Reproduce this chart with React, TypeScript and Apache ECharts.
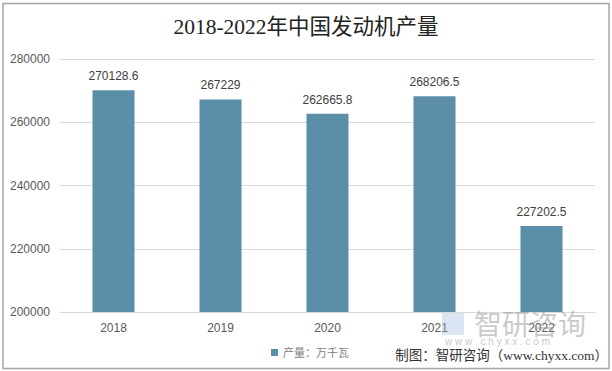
import React, { useEffect, useRef } from "react";
import * as echarts from "echarts";

const categories = ["2018", "2019", "2020", "2021", "2022"];
const production = [270128.6, 267229, 262665.8, 268206.5, 227202.5];
const yTicks = [200000, 220000, 240000, 260000, 280000];
const titleText = "2018-2022年中国发动机产量";
const legendName = "产量：万千瓦";
const sourceText = "制图：智研咨询（www.chyxx.com）";

const serif = "'Liberation Serif', 'DejaVu Serif', 'Noto Sans CJK SC', serif";
const sans = "'Liberation Sans', 'DejaVu Sans', 'Noto Sans CJK SC', sans-serif";

export default function App() {
  const ref = useRef<HTMLDivElement>(null);
  useEffect(() => {
    if (!ref.current) return;
    const chart = echarts.init(ref.current, null, { renderer: "svg" });
    chart.setOption({
      animation: false,
      backgroundColor: "#ffffff",
      title: {
        text: titleText,
        left: "center",
        top: 11,
        textStyle: { fontFamily: serif, fontSize: 21.5, fontWeight: "normal", color: "#222222" },
      },
      legend: {
        data: [legendName],
        left: 266,
        top: 342,
        itemWidth: 7,
        itemHeight: 7,
        itemGap: 4,
        icon: "rect",
        textStyle: { fontFamily: serif, fontSize: 11, color: "#7f7f7f" },
      },
      grid: { left: 60, right: 17, top: 59, bottom: 59, containLabel: false },
      xAxis: {
        type: "category",
        data: categories,
        axisLine: { show: true, lineStyle: { color: "#d9d9d9", width: 1 } },
        axisTick: { show: false },
        axisLabel: { fontFamily: sans, fontSize: 12, color: "#595959", margin: 10 },
      },
      yAxis: {
        type: "value",
        min: yTicks[0],
        max: yTicks[yTicks.length - 1],
        interval: 20000,
        axisLine: { show: false },
        axisTick: { show: false },
        splitLine: { lineStyle: { color: "#d9d9d9", width: 1 } },
        axisLabel: {
          fontFamily: sans,
          fontSize: 12,
          color: "#595959",
          margin: 10,
          formatter: (v: number) => String(v),
        },
      },
      series: [
        {
          name: legendName,
          type: "bar",
          data: production,
          barWidth: 42,
          itemStyle: { color: "#5b8fa8" },
          label: {
            show: true,
            position: "top",
            distance: 8,
            fontFamily: sans,
            fontSize: 12,
            color: "#404040",
          },
        },
      ],
      graphic: [
        {
          type: "rect",
          shape: { x: 3, y: 3.5, width: 606, height: 365 },
          style: { fill: "none", stroke: "#a6a6a6", lineWidth: 1.5 },
          silent: true,
          z: 100,
        },
        {
          type: "rect",
          shape: { x: 442, y: 313, width: 22, height: 22 },
          style: { fill: "rgba(150,180,220,0.35)" },
          silent: true,
          z: 50,
        },
        {
          type: "text",
          left: 474,
          top: 309,
          style: {
            text: "智研咨询",
            fontFamily: "'Noto Sans CJK SC', sans-serif",
            fontSize: 28,
            fill: "rgba(150,150,150,0.5)",
          },
          silent: true,
          z: 50,
        },
        {
          type: "text",
          left: 445,
          top: 336,
          style: {
            text: "w w w . c h y x x . c o m",
            fontFamily: sans,
            fontSize: 10,
            fill: "rgba(160,160,160,0.6)",
          },
          silent: true,
          z: 50,
        },
        {
          type: "text",
          right: 4,
          top: 349,
          style: {
            text: sourceText,
            fontFamily: serif,
            fontSize: 13.5,
            fill: "#333333",
          },
          z: 60,
        },
      ],
    });
    return () => chart.dispose();
  }, []);
  return (
    <div
      ref={ref}
      style={{ position: "fixed", left: 0, top: 0, width: 612, height: 371 }}
    />
  );
}
